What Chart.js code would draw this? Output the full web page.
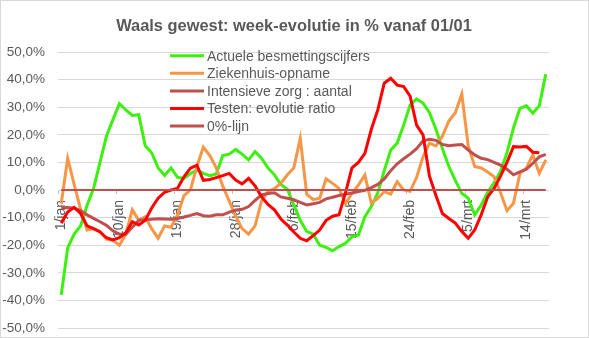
<!DOCTYPE html>
<html>
<head>
<meta charset="utf-8">
<script src="https://cdn.jsdelivr.net/npm/chart.js@4.4.1/dist/chart.umd.min.js"></script>
<style>
  html, body { margin: 0; padding: 0; background: #fff; }
  canvas { display: block; }
</style>
</head>
<body>
<canvas id="chart" width="589" height="338"></canvas>
<script>
// dagen 1/jan .. 17/mrt
var dagen = [
  '1/jan','2/jan','3/jan','4/jan','5/jan','6/jan','7/jan','8/jan','9/jan','10/jan',
  '11/jan','12/jan','13/jan','14/jan','15/jan','16/jan','17/jan','18/jan','19/jan','20/jan',
  '21/jan','22/jan','23/jan','24/jan','25/jan','26/jan','27/jan','28/jan','29/jan','30/jan',
  '31/jan','1/feb','2/feb','3/feb','4/feb','5/feb','6/feb','7/feb','8/feb','9/feb',
  '10/feb','11/feb','12/feb','13/feb','14/feb','15/feb','16/feb','17/feb','18/feb','19/feb',
  '20/feb','21/feb','22/feb','23/feb','24/feb','25/feb','26/feb','27/feb','28/feb','1/mrt',
  '2/mrt','3/mrt','4/mrt','5/mrt','6/mrt','7/mrt','8/mrt','9/mrt','10/mrt','11/mrt',
  '12/mrt','13/mrt','14/mrt','15/mrt','16/mrt','17/mrt'
];

var besmettingen = [
  -38, -21, -16, -13, -5.5, 0.5, 10, 19.5, 25.5, 31.3,
  29, 27, 27.3, 16, 13.5, 8, 5.3, 8, 4.6, 4.2,
  6, 7.2, 6, 5.2, 5.8, 12.5, 13, 14.7, 13, 10.9,
  13.9, 11.5, 8, 5.5, 2, 0.3, -5.5, -11, -15, -16,
  -20, -20.8, -22, -20.5, -19.3, -17, -16.3, -9.7, -6, -1,
  7, 14.5, 17, 23.5, 30.8, 33, 31.5, 28, 22, 15,
  8.5, 3.5, -1.2, -3, -9, -5.5, -0.8, 2.6, 6.8, 13.5,
  22.5, 29.6, 30.5, 27.8, 30.5, 42
];

var ziekenhuis = [
  -5, 11.5, 2, -7, -14.5, -14, -15, -17.8, -18.2, -20,
  -16, -7.2, -11, -9.7, -14, -17.5, -13, -13.5, -9, -2,
  0, 8.5, 15.5, 12.5, 8, 1.5, -4, -9.5, -14, -16,
  -13, -4, -0.5, 0.5, 2.5, 5.5, 8, 18.7, -1.5, -3.5,
  -3, 4, 2.4, 0.6, -5, -1.2, 1.8, 5.4, -4.8, -3,
  -0.6, -1.5, 3, 0, -0.5, 4.5, 12, 17, 16, 19.5,
  25, 28, 34.8, 16, 8.5, 8, 6.5, 4.8, -1, -7.5,
  -4.8, 6, 8, 12.7, 6, 10.9
];

var intensieveZorg = [
  -6.5, -6.3, -6.6, -7.5, -9, -10.3, -11.5, -12.8, -14.8, -16,
  -16, -13.5, -11, -10.8, -10.6, -10.4, -10.5, -10.6, -10.3, -9.8,
  -9.2, -8.5, -9.3, -9.5, -9, -9, -8, -7.3, -7, -6,
  -3.8, -1.8, -1.3, -1, -2.5, -3, -3.5, -4.5, -5.4, -5,
  -4.5, -3.2, -2.6, -2, -1.5, -1.1, -0.6, -0.1, 0.9, 2,
  4, 7, 9.5, 11.3, 13, 15, 17.8, 18.4, 18, 16.5,
  16, 16.3, 16.5, 14.5, 12.7, 11.5, 11, 10, 9, 7.5,
  5.5, 6.6, 7.5, 9.7, 12, 12.9
];

var testen = [
  -12, -8, -6.3, -8.5, -13, -14, -15.2, -17.3, -18.1, -17.3,
  -15.5, -11.5, -12.7, -11, -6.5, -3, -0.8, 0, 0.6, 4.8,
  7.9, 9, 3.5, 3.8, 4.5, 5.2, 6, 3.6, 2.2, 4.2,
  1.5, -2.4, -5.2, -7.2, -10.5, -12.7, -15.2, -17.5, -18.4, -16.5,
  -14.5, -11, -9.5, -9, -1, 8, 10, 13.3, 22, 29,
  38.7, 40.5, 38, 37.5, 34, 23.5, 20, 5, -2, -8.5,
  -10.3, -12, -15, -17.5, -14.5, -9, -2.5, 0.6, 5, 10,
  15.7, 15.6, 15.8, 13.7, 13.5, null
];

var nulLijn = [
  0, 0, 0, 0, 0, 0, 0, 0, 0, 0,
  0, 0, 0, 0, 0, 0, 0, 0, 0, 0,
  0, 0, 0, 0, 0, 0, 0, 0, 0, 0,
  0, 0, 0, 0, 0, 0, 0, 0, 0, 0,
  0, 0, 0, 0, 0, 0, 0, 0, 0, 0,
  0, 0, 0, 0, 0, 0, 0, 0, 0, 0,
  0, 0, 0, 0, 0, 0, 0, 0, 0, 0,
  0, 0, 0, 0, 0, 0
];

var tekstKleur = '#595959';
var fontNaam = '"Liberation Sans", Arial, sans-serif';

// witte achtergrond, rand, titel en legende zoals in Excel
var excelStijl = {
  id: 'excelStijl',
  beforeDraw: function(chart) {
    var ctx = chart.ctx;
    ctx.save();
    ctx.fillStyle = '#fff';
    ctx.fillRect(0, 0, chart.width, chart.height);
    ctx.strokeStyle = '#D9D9D9';
    ctx.lineWidth = 1;
    ctx.strokeRect(0.5, 0.5, chart.width - 1, chart.height - 1);
    ctx.restore();
  },
  afterDatasetsDraw: function(chart) {
    var ctx = chart.ctx;
    ctx.save();
    ctx.fillStyle = tekstKleur;
    ctx.font = 'bold 16.4px ' + fontNaam;
    ctx.textAlign = 'center';
    ctx.textBaseline = 'alphabetic';
    ctx.fillText('Waals gewest: week-evolutie in % vanaf 01/01', 294, 30.5);

    ctx.font = '14px ' + fontNaam;
    ctx.textAlign = 'left';
    ctx.textBaseline = 'middle';
    chart.data.datasets.forEach(function(ds, i) {
      var y = 55.7 + i * 17.6;
      ctx.strokeStyle = ds.borderColor;
      ctx.lineWidth = 3;
      ctx.beginPath();
      ctx.moveTo(170, y);
      ctx.lineTo(204, y);
      ctx.stroke();
      ctx.fillStyle = tekstKleur;
      ctx.fillText(ds.label, 207, y + 1);
    });
    ctx.restore();
  }
};

function lijn(label, data, kleur, volgorde, dikte) {
  return {
    label: label,
    data: data,
    borderColor: kleur,
    backgroundColor: kleur,
    borderWidth: dikte,
    pointRadius: 0,
    tension: 0,
    fill: false,
    order: volgorde
  };
}

new Chart(document.getElementById('chart'), {
  type: 'line',
  data: {
    labels: dagen,
    datasets: [
      lijn('Actuele besmettingscijfers', besmettingen, '#3CF00F', 5, 3),
      lijn('Ziekenhuis-opname', ziekenhuis, '#F79646', 4, 3),
      lijn('Intensieve zorg : aantal', intensieveZorg, '#C0504D', 3, 3),
      lijn('Testen: evolutie ratio', testen, '#FF0000', 2, 3),
      lijn('0%-lijn', nulLijn, '#C0504D', 1, 2)
    ]
  },
  options: {
    responsive: false,
    animation: false,
    devicePixelRatio: 1,
    layout: { padding: { top: 52, right: 40, bottom: 10, left: 0 } },
    plugins: {
      legend: { display: false },
      title: { display: false },
      tooltip: { enabled: false }
    },
    scales: {
      x: {
        type: 'category',
        position: { y: 0 },
        offset: true,
        border: { display: false },
        grid: {
          drawOnChartArea: false,
          drawTicks: true,
          tickLength: 4,
          offset: true,
          color: function(c) { return c.index % 9 === 0 ? '#BFBFBF' : 'rgba(0,0,0,0)'; }
        },
        ticks: {
          autoSkip: false,
          minRotation: 90,
          maxRotation: 90,
          padding: 6,
          color: tekstKleur,
          font: { family: fontNaam, size: 14 },
          callback: function(v, i) { return i % 9 === 0 ? this.getLabelForValue(v) : ''; }
        }
      },
      y: {
        min: -50,
        max: 50,
        border: { display: false },
        grid: { color: '#D9D9D9', drawTicks: false, lineWidth: 1 },
        ticks: {
          stepSize: 10,
          padding: 13,
          color: tekstKleur,
          font: { family: fontNaam, size: 13.5 },
          callback: function(v) { return v.toFixed(1).replace('.', ',') + '%'; }
        },
        afterFit: function(s) {
          s.width = 58;
          s.paddingTop = 8;
          s.paddingBottom = 8;
        }
      }
    }
  },
  plugins: [excelStijl]
});
</script>
</body>
</html>
